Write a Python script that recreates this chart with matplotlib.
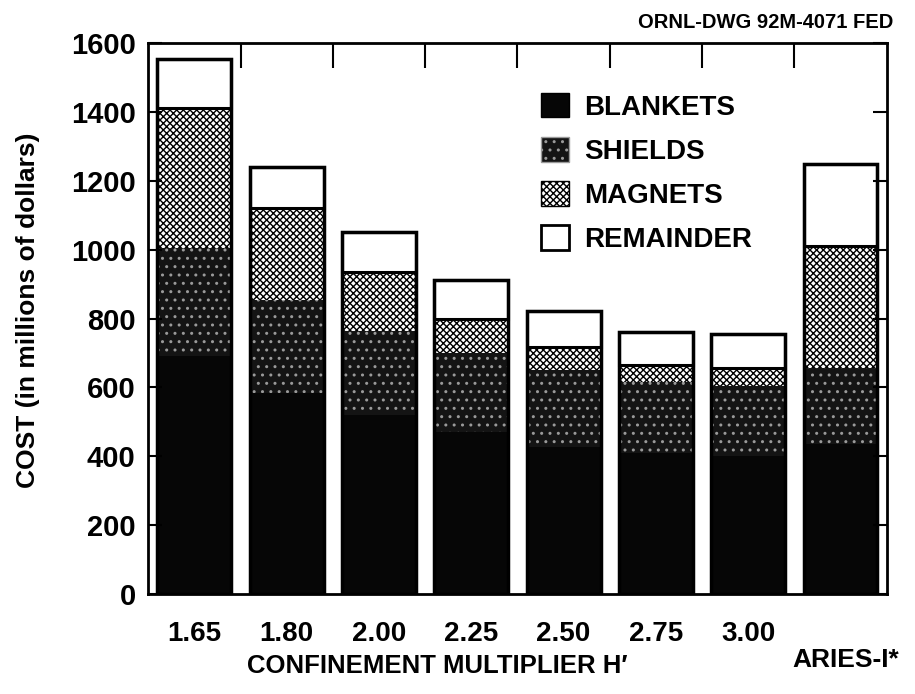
import numpy as np
import matplotlib
matplotlib.use("Agg")
import matplotlib.pyplot as plt
from matplotlib.patches import Patch
from matplotlib.transforms import ScaledTranslation

# data (millions of dollars)
labels = ["1.65", "1.80", "2.00", "2.25", "2.50", "2.75", "3.00", "ARIES-I*"]
blankets = [690, 585, 520, 470, 428, 410, 400, 435]
shields = [315, 270, 245, 230, 222, 205, 205, 220]
magnets = [405, 265, 170, 100, 68, 50, 50, 355]
remainder = [145, 120, 115, 113, 104, 95, 100, 240]

plt.rcParams["font.family"] = ["Liberation Sans", "DejaVu Sans"]
plt.rcParams["font.weight"] = "bold"
plt.rcParams["axes.labelweight"] = "bold"
plt.rcParams["hatch.linewidth"] = 1.0

fig = plt.figure(figsize=(9.15, 6.94), dpi=100)
ax = fig.add_axes([0.162, 0.144, 0.807, 0.794])

x = np.arange(len(labels))
w = 0.8
b1 = np.array(blankets)
b2 = b1 + np.array(shields)
b3 = b2 + np.array(magnets)
total = b3 + np.array(remainder)

# fills (hatch colour comes from edgecolor, so outlines are drawn afterwards)
ax.bar(x, blankets, w, color="#060606", edgecolor="#060606", linewidth=0)
ax.bar(x, shields, w, bottom=b1, color="#141414", edgecolor="#9a9a9a",
       hatch="..", linewidth=0)
ax.bar(x, magnets, w, bottom=b2, color="white", edgecolor="black",
       hatch="xxxxx", linewidth=0)
ax.bar(x, remainder, w, bottom=b3, color="white", edgecolor="black",
       linewidth=2.2)
ax.bar(x, total, w, fill=False, edgecolor="black", linewidth=2.5)

ax.set_xlim(-0.5, len(labels) - 0.5)
ax.set_ylim(0, 1600)
ax.set_yticks(np.arange(0, 1601, 200))
ax.set_xticks(x)
ax.set_xticklabels(labels)
ax.tick_params(axis="y", direction="in", length=10, width=1.5, pad=9,
               labelsize=21, right=True)
ax.tick_params(axis="x", bottom=False, labelsize=20, pad=16)
for s in ax.spines.values():
    s.set_linewidth(2)

# top ticks at the bar boundaries
ax2 = ax.secondary_xaxis("top")
ax2.set_xticks(x[:-1] + 0.5)
ax2.set_xticklabels([])
ax2.tick_params(direction="in", length=18, width=1.5)

# ARIES-I* label sits lower and a little to the right
last = ax.get_xticklabels()[-1]
last.set_fontsize(19)
last.set_transform(last.get_transform()
                   + ScaledTranslation(0.05, -0.27, fig.dpi_scale_trans))

ax.set_xlabel("CONFINEMENT MULTIPLIER H\u2032", fontsize=18.5)
ax.xaxis.set_label_coords(0.391, -0.108)
ax.set_ylabel("COST (in millions of dollars)", fontsize=19)
ax.yaxis.set_label_coords(-0.147, 0.515)

fig.text(0.976, 0.967, "ORNL-DWG 92M-4071 FED", ha="right", va="center",
         fontsize=14.5)

handles = [
    Patch(facecolor="#060606", edgecolor="black"),
    Patch(facecolor="#141414", edgecolor="#9a9a9a", hatch=".."),
    Patch(facecolor="white", edgecolor="black", hatch="xxxxx"),
    Patch(facecolor="white", edgecolor="black", linewidth=2),
]
ax.legend(handles, ["BLANKETS", "SHIELDS", "MAGNETS", "REMAINDER"],
          loc="upper left", bbox_to_anchor=(0.532, 0.91), frameon=False,
          fontsize=20, handlelength=1.0, handleheight=1.0,
          handletextpad=0.55, labelspacing=0.58, borderpad=0,
          borderaxespad=0)

fig.savefig("out.png", dpi=100)
